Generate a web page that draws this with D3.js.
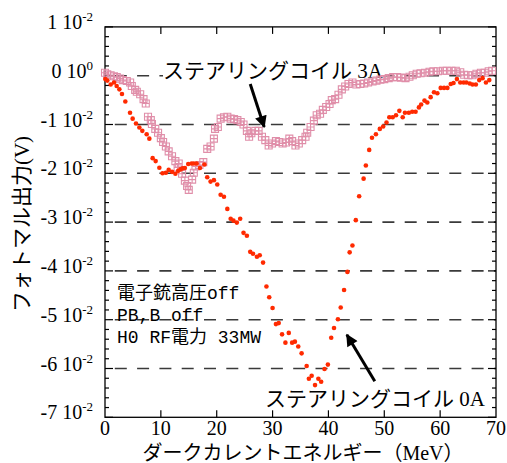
<!DOCTYPE html>
<html>
<head>
<meta charset="utf-8">
<script src="https://cdn.jsdelivr.net/npm/d3@7"></script>
<style>
  body { margin: 0; background: #fff; }
  svg { display: block; }
  .num { font-family: "Liberation Serif", serif; font-size: 20px; fill: #000; }
  .jp { font-family: "Liberation Serif", "Noto Sans CJK JP", serif; fill: #000; }
  .note { font-family: "Liberation Mono", "Noto Sans CJK JP", monospace; fill: #000; }
</style>
</head>
<body>
<div id="chart"></div>
<script>
const __CONFIG__ = {
  main_id: "chart",
  width: 507,
  height: 463,
  left: 105,
  right: 496,
  top: 26.9,
  bottom: 417.3
}

// energy (MeV) / photomultiplier output (units of 1e-2 V)
const coil0_energy = [0.05, 0.42, 1.02, 1.61, 2.09, 2.57, 3.04, 3.64, 4.48, 4.95, 5.55, 6.15, 6.68, 7.46, 7.94,
  8.53, 9.07, 9.73, 10.3, 10.9, 11.4, 12.0, 12.6, 13.1, 13.5, 13.9, 14.3, 14.9, 15.5, 15.9, 16.4, 17.0, 17.8,
  18.3, 18.9, 19.5, 20.1, 20.7, 21.3, 21.9, 22.5, 23.0, 23.6, 24.2, 24.8, 25.4, 26.0, 26.5, 27.2, 27.7, 28.3,
  28.9, 29.4, 30.0, 30.6, 31.1, 31.7, 32.3, 32.9, 33.5, 34.0, 34.6, 35.2, 36.1, 36.5, 37.0, 37.6, 38.2, 38.7,
  39.3, 39.9, 40.5, 41.0, 41.7, 42.2, 42.8, 43.4, 43.8, 44.3, 44.9, 45.5, 46.3, 46.7, 47.3, 47.8, 48.5, 49.2,
  49.8, 50.4, 50.9, 51.5, 52.1, 52.7, 53.3, 53.7, 54.4, 55.0, 55.6, 56.2, 56.6, 57.2, 57.7, 58.3, 58.9, 59.5,
  60.1, 60.7, 61.3, 61.9, 62.4, 63.0, 63.6, 64.2, 64.7, 65.3, 65.8, 66.4, 67.0, 67.6, 68.2, 68.8];
const coil0_output = [-0.07, -0.10, -0.18, -0.14, -0.21, -0.28, -0.375, -0.53, -0.76, -0.88, -0.98, -1.06, -1.13, -1.20, -1.29,
  -1.69, -1.75, -1.885, -2.0, -1.99, -1.93, -1.97, -2.01, -1.95, -1.92, -1.90, -1.89, -1.81, -1.80, -1.80, -1.80, -1.89, -1.82,
  -2.08, -2.17, -2.14, -2.23, -2.44, -2.48, -2.73, -2.93, -2.97, -3.01, -2.93, -3.22, -3.28, -3.61, -3.65, -3.71, -3.68, -3.83,
  -4.32, -4.54, -4.76, -5.09, -5.07, -5.30, -5.47, -5.27, -5.47, -5.45, -5.55, -5.69, -5.95, -6.21, -6.15, -6.34, -6.21, -6.27,
  -6.01, -5.92, -5.37, -5.17, -4.99, -4.75, -4.39, -4.02, -3.62, -3.48, -2.96, -2.47, -2.11, -1.84, -1.52, -1.27, -1.20, -1.09,
  -1.04, -0.96, -0.85, -0.85, -0.81, -0.72, -0.85, -0.76, -0.76, -0.74, -0.74, -0.65, -0.59, -0.51, -0.55, -0.44, -0.34, -0.36,
  -0.25, -0.25, -0.25, -0.17, -0.15, -0.07, -0.14, -0.14, -0.14, -0.16, -0.18, -0.18, -0.09, -0.05, -0.14, -0.09];

const coil3_energy = [0.0, 0.4, 1.0, 1.6, 2.1, 2.7, 3.2, 3.9, 4.5, 4.8, 5.4, 5.7, 6.3, 6.9, 7.3, 7.7, 8.2, 8.4,
  9.0, 9.5, 10.0, 10.4, 10.9, 11.4, 12.0, 12.6, 13.0, 13.2, 13.8, 14.3, 14.7, 15.0, 15.6, 15.9, 16.2, 16.9,
  17.6, 18.3, 18.9, 19.5, 19.7, 20.2, 20.7, 21.3, 21.9, 22.5, 23.1, 23.7, 24.3, 24.8, 25.4, 25.8, 26.2, 26.9,
  27.5, 28.1, 28.7, 29.3, 29.9, 30.6, 31.2, 31.8, 32.4, 33.0, 33.5, 34.1, 34.7, 35.3, 35.9, 36.2, 36.8, 37.4,
  37.9, 38.5, 39.0, 39.6, 40.2, 40.6, 41.2, 41.8, 42.4, 43.0, 43.6, 44.3, 45.0, 45.7, 46.4, 47.1, 47.9, 48.6,
  49.3, 50.0, 50.8, 51.6, 52.3, 53.0, 53.8, 54.5, 55.1, 55.8, 56.5, 57.3, 58.1, 58.8, 59.6, 60.5, 61.2, 62.0,
  62.8, 63.6, 64.3, 65.0, 65.8, 66.5, 67.3, 68.0, 68.7, 69.3];
const coil3_output = [0.06, 0.03, 0.01, -0.01, -0.03, -0.06, -0.09, -0.11, -0.14, -0.21, -0.29, -0.33, -0.38, -0.48, -0.57, -0.84, -0.91, -0.99,
  -1.09, -1.17, -1.28, -1.36, -1.45, -1.55, -1.65, -1.75, -1.88, -1.80, -2.01, -2.15, -2.26, -2.34, -2.13, -1.99, -1.86, -1.83,
  -1.77, -1.50, -1.45, -1.29, -1.09, -1.05, -0.88, -0.85, -0.84, -0.88, -0.89, -0.91, -0.95, -1.00, -1.13, -1.25, -1.18, -1.13,
  -1.13, -1.25, -1.32, -1.43, -1.39, -1.34, -1.36, -1.39, -1.37, -1.29, -1.34, -1.43, -1.39, -1.32, -1.25, -1.17, -1.05, -0.92,
  -0.81, -0.78, -0.70, -0.64, -0.58, -0.50, -0.48, -0.39, -0.28, -0.22, -0.17, -0.14, -0.18, -0.17, -0.16, -0.14, -0.12, -0.10,
  -0.08, -0.07, -0.05, -0.03, -0.03, -0.04, -0.05, -0.02, 0.01, 0.04, 0.05, 0.06, 0.08, 0.09, 0.09, 0.10, 0.10, 0.10,
  0.10, 0.07, 0.02, 0.01, 0.01, 0.04, 0.06, 0.06, 0.09, 0.10];

const x_ticks = [0, 10, 20, 30, 40, 50, 60, 70];
const y_ticks = [1, 0, -1, -2, -3, -4, -5, -6, -7];
const grid_levels = [0, -1, -2, -3, -4, -5, -6];
const notes = ["電子銃高圧off", "PB,B off", "H0 RF電力 33MW"];
const label_coil3 = "ステアリングコイル 3A";
const label_coil0 = "ステアリングコイル 0A";
const x_title = "ダークカレントエネルギー（MeV）";
const y_title = "フォトマル出力(V)";
// arrows: [x0, y0, x1, y1] in data units
const arrows = [[26.0, -0.17, 28.5, -1.05], [48.3, -6.26, 43.3, -5.31]];

function select_main(config=__CONFIG__) {
  return d3.select(`#${config.main_id}`);
}

function draw_chart(config=__CONFIG__) {
  const svg = select_main().append("svg")
    .attr("width", config.width)
    .attr("height", config.height);

  const x = d3.scaleLinear().domain([0, 70]).range([config.left, config.right]);
  const y = d3.scaleLinear().domain([-7, 1]).range([config.bottom, config.top]);

  svg.append("defs").append("marker")
    .attr("id", "head")
    .attr("viewBox", "0 0 10 10")
    .attr("refX", 9).attr("refY", 5)
    .attr("markerWidth", 5).attr("markerHeight", 4)
    .attr("markerUnits", "strokeWidth")
    .attr("orient", "auto")
    .append("path")
    .attr("d", "M0,0L10,5L0,10z")
    .attr("fill", "#000");

  // dashed levels
  svg.append("g").selectAll("line")
    .data(grid_levels)
    .join("line")
    .attr("x1", x(0)).attr("x2", x(70))
    .attr("y1", d => y(d)).attr("y2", d => y(d))
    .attr("stroke", "#3a3a3a")
    .attr("stroke-width", 1.6)
    .attr("stroke-dasharray", "12,10.3")
    .attr("stroke-dashoffset", 12.5);

  // frame
  svg.append("rect")
    .attr("x", x(0)).attr("y", y(1))
    .attr("width", x(70) - x(0)).attr("height", y(-7) - y(1))
    .attr("fill", "none").attr("stroke", "#000").attr("stroke-width", 1.3);

  // y ticks, inward, both sides
  const y_minor = d3.range(-70, 11, 2).map(d => d / 10);
  const ticks = svg.append("g").attr("stroke", "#000").attr("stroke-width", 1.2);
  for (const side of [{x0: x(0), dir: 1}, {x0: x(70), dir: -1}]) {
    ticks.append("g").selectAll("line")
      .data(y_minor)
      .join("line")
      .attr("x1", side.x0)
      .attr("x2", d => side.x0 + side.dir * (Number.isInteger(d) ? 8 : 4))
      .attr("y1", d => y(d)).attr("y2", d => y(d));
  }
  for (const side of [{y0: y(-7), dir: -1}, {y0: y(1), dir: 1}]) {
    ticks.append("g").selectAll("line")
      .data(x_ticks.slice(1, -1))
      .join("line")
      .attr("x1", d => x(d)).attr("x2", d => x(d))
      .attr("y1", side.y0).attr("y2", side.y0 + side.dir * 7);
  }

  // y tick labels  "n 10^-2"
  const ylab = svg.append("g").selectAll("text")
    .data(y_ticks)
    .join("text")
    .attr("class", "num")
    .attr("text-anchor", "end")
    .attr("x", 93)
    .attr("y", d => y(d) + 2);
  ylab.append("tspan").text(d => `${d} 10`);
  ylab.append("tspan")
    .attr("dy", -8)
    .attr("font-size", 13)
    .text(d => d === 0 ? "0" : "-2");

  svg.append("g").selectAll("text")
    .data(x_ticks)
    .join("text")
    .attr("class", "num")
    .attr("text-anchor", "middle")
    .attr("x", d => x(d))
    .attr("y", 435)
    .text(d => d);

  // axis titles
  svg.append("text")
    .attr("class", "jp")
    .attr("font-size", 20)
    .attr("text-anchor", "middle")
    .attr("x", 303).attr("y", 460)
    .text(x_title);
  svg.append("text")
    .attr("class", "jp")
    .attr("font-size", 21)
    .attr("text-anchor", "middle")
    .attr("transform", "translate(29,224) rotate(-90)")
    .text(y_title);

  // notes
  svg.append("g").selectAll("text")
    .data(notes)
    .join("text")
    .attr("class", "note")
    .attr("font-size", 18)
    .attr("x", 117)
    .attr("y", (d, i) => 299 + i * 22)
    .text(d => d);

  // series label for 3A (sits over the 0 line)
  const lab3 = svg.append("text")
    .attr("class", "jp")
    .attr("font-size", 21)
    .attr("x", 163).attr("y", 78)
    .text(label_coil3);
  const bb = lab3.node().getBBox();
  svg.insert("rect", () => lab3.node())
    .attr("x", bb.x).attr("y", bb.y)
    .attr("width", bb.width).attr("height", bb.height - 2)
    .attr("fill", "#fff");

  svg.append("text")
    .attr("class", "jp")
    .attr("font-size", 21)
    .attr("x", 265).attr("y", 406)
    .text(label_coil0);

  // 3A series: open squares with cross
  const coil3 = coil3_energy.map((e, i) => [e, coil3_output[i]]);
  const s = 3.5;
  svg.append("g")
    .attr("fill", "none")
    .attr("stroke", "#e08ea9")
    .attr("stroke-width", 1.1)
    .selectAll("path")
    .data(coil3)
    .join("path")
    .attr("d", d => {
      const cx = x(d[0]), cy = y(d[1]);
      return `M${cx - s},${cy - s}h${2 * s}v${2 * s}h${-2 * s}z` +
             `M${cx},${cy - s}v${2 * s}M${cx - s},${cy}h${2 * s}`;
    });

  // 0A series: filled dots
  const coil0 = coil0_energy.map((e, i) => [e, coil0_output[i]]);
  svg.append("g")
    .attr("fill", "#ff2a00")
    .selectAll("circle")
    .data(coil0)
    .join("circle")
    .attr("cx", d => x(d[0]))
    .attr("cy", d => y(d[1]))
    .attr("r", 2.3);

  svg.append("g").selectAll("line")
    .data(arrows)
    .join("line")
    .attr("x1", d => x(d[0])).attr("y1", d => y(d[1]))
    .attr("x2", d => x(d[2])).attr("y2", d => y(d[3]))
    .attr("stroke", "#000")
    .attr("stroke-width", 3)
    .attr("marker-end", "url(#head)");
}

draw_chart();
</script>
</body>
</html>
